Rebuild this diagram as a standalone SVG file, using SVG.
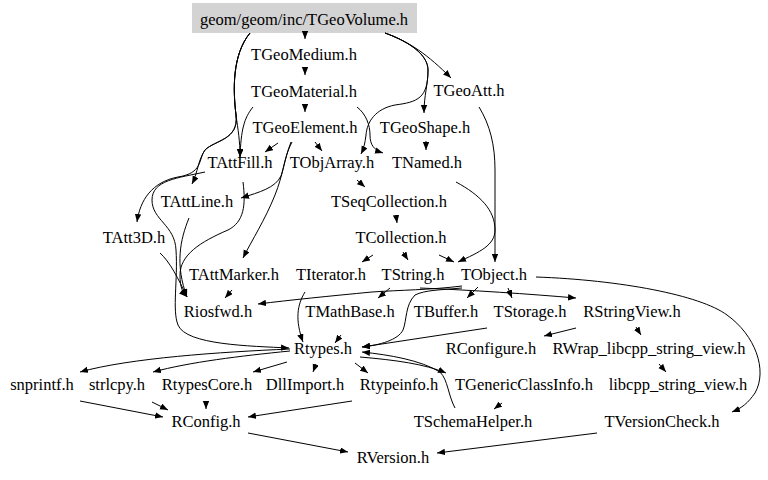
<svg xmlns="http://www.w3.org/2000/svg" width="768" height="480" viewBox="0 0 768 480">
<style>
text{font-family:"Liberation Serif","Times New Roman",serif;font-size:16.5px;fill:#000;text-anchor:middle}
.e path{fill:none;stroke:#000;stroke-width:1;marker-end:url(#ah)}
</style>
<defs>
<marker id="ah" markerUnits="userSpaceOnUse" markerWidth="9" markerHeight="7" refX="8" refY="3.2" orient="auto"><path d="M0,0 L8,3.2 L0,6.4 z" fill="#000"/></marker>
</defs>
<rect width="768" height="480" fill="#fff"/>
<g id="n_TGeoVolume"><rect x="192" y="3" width="225" height="30" fill="#d3d3d3"/><text x="304" y="25">geom/geom/inc/TGeoVolume.h</text></g>
<g id="n_TGeoMedium"><text x="304" y="60">TGeoMedium.h</text></g>
<g id="n_TGeoMaterial"><text x="304" y="97">TGeoMaterial.h</text></g>
<g id="n_TGeoAtt"><text x="469" y="96">TGeoAtt.h</text></g>
<g id="n_TGeoElement"><text x="305" y="133">TGeoElement.h</text></g>
<g id="n_TGeoShape"><text x="425" y="133">TGeoShape.h</text></g>
<g id="n_TAttFill"><text x="240" y="168">TAttFill.h</text></g>
<g id="n_TObjArray"><text x="332" y="168">TObjArray.h</text></g>
<g id="n_TNamed"><text x="427" y="168">TNamed.h</text></g>
<g id="n_TAttLine"><text x="197" y="207">TAttLine.h</text></g>
<g id="n_TSeqCollection"><text x="389" y="207">TSeqCollection.h</text></g>
<g id="n_TAtt3D"><text x="134" y="243">TAtt3D.h</text></g>
<g id="n_TCollection"><text x="401" y="243">TCollection.h</text></g>
<g id="n_TAttMarker"><text x="234" y="280">TAttMarker.h</text></g>
<g id="n_TIterator"><text x="331" y="280">TIterator.h</text></g>
<g id="n_TString"><text x="413" y="280">TString.h</text></g>
<g id="n_TObject"><text x="494" y="280">TObject.h</text></g>
<g id="n_Riosfwd"><text x="218" y="317">Riosfwd.h</text></g>
<g id="n_TMathBase"><text x="350" y="317">TMathBase.h</text></g>
<g id="n_TBuffer"><text x="446" y="317">TBuffer.h</text></g>
<g id="n_TStorage"><text x="530" y="317">TStorage.h</text></g>
<g id="n_RStringView"><text x="632" y="317">RStringView.h</text></g>
<g id="n_Rtypes"><text x="323" y="354">Rtypes.h</text></g>
<g id="n_RConfigure"><text x="491" y="354">RConfigure.h</text></g>
<g id="n_RWrap"><text x="649" y="354">RWrap_libcpp_string_view.h</text></g>
<g id="n_snprintf"><text x="42" y="390">snprintf.h</text></g>
<g id="n_strlcpy"><text x="117" y="390">strlcpy.h</text></g>
<g id="n_RtypesCore"><text x="207" y="390">RtypesCore.h</text></g>
<g id="n_DllImport"><text x="305" y="390">DllImport.h</text></g>
<g id="n_Rtypeinfo"><text x="399" y="390">Rtypeinfo.h</text></g>
<g id="n_TGenericClassInfo"><text x="524" y="390">TGenericClassInfo.h</text></g>
<g id="n_libcpp"><text x="678" y="390">libcpp_string_view.h</text></g>
<g id="n_RConfig"><text x="206" y="427">RConfig.h</text></g>
<g id="n_TSchemaHelper"><text x="473" y="427">TSchemaHelper.h</text></g>
<g id="n_TVersionCheck"><text x="662" y="427">TVersionCheck.h</text></g>
<g id="n_RVersion"><text x="393" y="463">RVersion.h</text></g>
<g id="edges" class="e">
<path d="M305,31 L305,39"/>
<path d="M305,67 L305,75"/>
<path d="M305,104 L305,112"/>
<path d="M385,33 C410,42 428,55 451,78"/>
<path d="M385,33 C410,42 428,55 428,70 C428,85 424,95 424,113"/>
<path d="M385,33 C410,42 428,55 428,70 C428,98 418,102 395,105 C375,109 367,122 366,135 C365,143 364,148 361,154"/>
<path d="M357,107 C366,114 370,125 370,135 C370,145 374,150 383,153"/>
<path d="M250,33 C232,55 233,90 236,115 C238,130 240,140 240,157"/>
<path d="M253,107 C244,118 241,130 240,157"/>
<path d="M250,33 C232,55 233,90 236,115 C239,140 215,140 205,150 C198,160 203,173 178,177 C152,182 140,200 137,222"/>
<path d="M250,33 C232,55 233,90 236,115 C239,140 215,140 205,150 C198,160 198,172 192,184"/>
<path d="M278,143 L265,152"/>
<path d="M315,142 L322,151"/>
<path d="M426,141 L426,150"/>
<path d="M292,142 C285,155 284,168 281,176 C275,188 260,192 241,198"/>
<path d="M291,142 C284,160 283,175 275,195 C265,220 252,240 243,258"/>
<path d="M357,180 L365,187"/>
<path d="M396,215 L397,223"/>
<path d="M373,255 L362,262"/>
<path d="M403,252 L408,260"/>
<path d="M439,255 L454,262"/>
<path d="M456,182 C480,195 495,210 495,230 C495,245 480,252 458,262"/>
<path d="M479,107 C490,125 495,145 495,170 L495,262"/>
<path d="M243,182 C246,205 244,222 228,230 C200,242 180,255 180,275 C180,288 183,293 187,297"/>
<path d="M189,218 C180,240 175,265 187,297"/>
<path d="M160,253 C170,262 178,278 187,297"/>
<path d="M205,172 C178,178 152,180 152,200 C152,220 175,225 176,250 C178,280 172,310 178,325 C186,345 250,346 289,348"/>
<path d="M232,290 L225,298"/>
<path d="M462,286 C430,290 400,290 372,292 C330,296 290,300 258,304"/>
<path d="M390,288 L378,298"/>
<path d="M420,288 C470,290 530,294 576,298"/>
<path d="M478,287 L467,298"/>
<path d="M508,288 L512,298"/>
<path d="M462,288 C440,290 425,290 415,295 C405,305 407,320 403,330 C398,340 380,345 362,347"/>
<path d="M305,292 C297,305 295,320 303,342"/>
<path d="M341,335 L335,343"/>
<path d="M487,328 L362,347"/>
<path d="M576,328 L544,336"/>
<path d="M636,327 L641,335"/>
<path d="M659,364 L666,372"/>
<path d="M536,277 C620,280 700,295 727,315 C755,335 768,370 755,393 C748,403 742,408 732,412"/>
<path d="M290,349 C220,352 130,358 80,372"/>
<path d="M290,351 C240,356 190,362 153,372"/>
<path d="M287,362 L253,372"/>
<path d="M316,364 L313,372"/>
<path d="M355,363 L368,373"/>
<path d="M360,357 C395,360 425,364 446,373"/>
<path d="M455,408 C448,395 448,380 440,372 C420,360 390,355 362,352"/>
<path d="M502,403 L494,409"/>
<path d="M80,401 L163,417"/>
<path d="M152,402 L168,410"/>
<path d="M206,401 L206,409"/>
<path d="M352,401 L248,417"/>
<path d="M248,433 L348,452"/>
<path d="M597,433 L437,453"/>
</g>
</svg>
